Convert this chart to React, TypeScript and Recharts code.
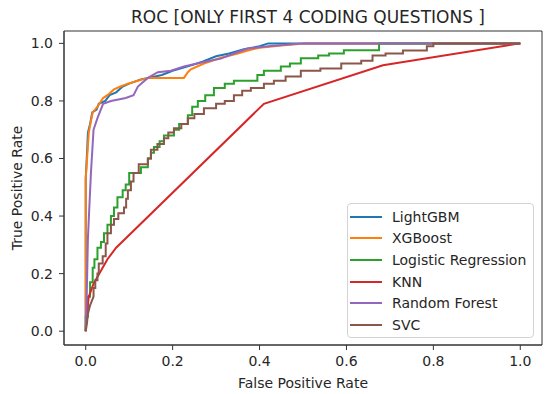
import React from 'react';
import { LineChart, Line, XAxis, YAxis, Legend, ReferenceArea, Label } from 'recharts';

const FONT = "'DejaVu Sans', 'Liberation Sans', sans-serif";

const TITLE = 'ROC [ONLY FIRST 4 CODING QUESTIONS ]';
const X_LABEL = 'False Positive Rate';
const Y_LABEL = 'True Positive Rate';
const TICKS = [0, 0.2, 0.4, 0.6, 0.8, 1.0];
const X_DOMAIN: [number, number] = [-0.05, 1.05];
const Y_DOMAIN: [number, number] = [-0.048, 1.043];

const SERIES_NAMES = ['LightGBM', 'XGBoost', 'Logistic Regression', 'KNN', 'Random Forest', 'SVC'];
const SERIES_COLORS = ['#1f77b4', '#ff7f0e', '#2ca02c', '#d62728', '#9467bd', '#8c564b'];

const lgbmFpr = [0, 0, 0.003, 0.005, 0.01, 0.015, 0.025, 0.03, 0.045, 0.055, 0.07, 0.085, 0.1, 0.127, 0.16, 0.175, 0.2, 0.235, 0.27, 0.3, 0.33, 0.364, 0.4, 0.42, 1];
const lgbmTpr = [0, 0.53, 0.62, 0.69, 0.72, 0.76, 0.77, 0.79, 0.8, 0.82, 0.83, 0.85, 0.86, 0.875, 0.885, 0.89, 0.905, 0.92, 0.937, 0.955, 0.965, 0.98, 0.99, 1, 1];

const xgbFpr = [0, 0, 0.004, 0.007, 0.012, 0.016, 0.027, 0.04, 0.05, 0.065, 0.08, 0.097, 0.12, 0.143, 0.226, 0.235, 0.242, 0.272, 0.311, 0.35, 0.373, 0.4, 0.45, 0.51, 1];
const xgbTpr = [0, 0.53, 0.62, 0.69, 0.73, 0.76, 0.78, 0.81, 0.82, 0.84, 0.85, 0.86, 0.87, 0.88, 0.88, 0.9, 0.91, 0.93, 0.95, 0.965, 0.975, 0.985, 0.993, 1, 1];

const lrFpr = [0, 0, 0.005, 0.005, 0.01, 0.01, 0.016, 0.016, 0.02, 0.02, 0.027, 0.027, 0.035, 0.035, 0.042, 0.042, 0.05, 0.05, 0.058, 0.058, 0.065, 0.065, 0.073, 0.073, 0.085, 0.085, 0.092, 0.092, 0.1, 0.1, 0.127, 0.127, 0.143, 0.143, 0.15, 0.15, 0.157, 0.157, 0.17, 0.17, 0.18, 0.18, 0.203, 0.203, 0.215, 0.215, 0.235, 0.235, 0.245, 0.245, 0.258, 0.258, 0.275, 0.275, 0.295, 0.295, 0.32, 0.32, 0.341, 0.341, 0.395, 0.395, 0.41, 0.41, 0.449, 0.449, 0.47, 0.47, 0.495, 0.495, 0.535, 0.535, 0.56, 0.56, 0.594, 0.594, 0.675, 0.675, 1];
const lrTpr = [0, 0.05, 0.05, 0.12, 0.12, 0.17, 0.17, 0.22, 0.22, 0.25, 0.25, 0.29, 0.29, 0.31, 0.31, 0.34, 0.34, 0.37, 0.37, 0.4, 0.4, 0.43, 0.43, 0.465, 0.465, 0.49, 0.49, 0.51, 0.51, 0.55, 0.55, 0.57, 0.57, 0.6, 0.6, 0.62, 0.62, 0.64, 0.64, 0.66, 0.66, 0.68, 0.68, 0.7, 0.7, 0.72, 0.72, 0.75, 0.75, 0.78, 0.78, 0.8, 0.8, 0.82, 0.82, 0.845, 0.845, 0.86, 0.86, 0.87, 0.87, 0.89, 0.89, 0.905, 0.905, 0.92, 0.92, 0.93, 0.93, 0.948, 0.948, 0.958, 0.958, 0.965, 0.965, 0.976, 0.976, 1, 1];

const knnFpr = [0, 0.003, 0.007, 0.018, 0.035, 0.05, 0.07, 0.41, 0.684, 1];
const knnTpr = [0, 0.07, 0.12, 0.165, 0.21, 0.25, 0.29, 0.79, 0.924, 1];

const rfFpr = [0, 0.002, 0.005, 0.008, 0.012, 0.016, 0.018, 0.027, 0.04, 0.058, 0.092, 0.11, 0.12, 0.143, 0.166, 0.196, 0.226, 0.272, 0.311, 0.341, 0.373, 0.42, 0.5, 1];
const rfTpr = [0, 0.1, 0.32, 0.42, 0.55, 0.65, 0.7, 0.74, 0.79, 0.8, 0.81, 0.82, 0.85, 0.88, 0.9, 0.905, 0.92, 0.935, 0.947, 0.965, 0.982, 0.99, 1, 1];

const svcFpr = [0, 0.003, 0.005, 0.01, 0.018, 0.018, 0.022, 0.022, 0.027, 0.027, 0.03, 0.03, 0.039, 0.039, 0.046, 0.046, 0.05, 0.05, 0.058, 0.058, 0.065, 0.065, 0.075, 0.075, 0.088, 0.088, 0.093, 0.093, 0.097, 0.097, 0.104, 0.104, 0.11, 0.11, 0.122, 0.122, 0.143, 0.143, 0.15, 0.15, 0.165, 0.165, 0.18, 0.18, 0.19, 0.19, 0.203, 0.203, 0.22, 0.22, 0.235, 0.235, 0.25, 0.25, 0.272, 0.272, 0.3, 0.3, 0.32, 0.32, 0.341, 0.341, 0.36, 0.36, 0.38, 0.38, 0.41, 0.41, 0.433, 0.433, 0.46, 0.46, 0.495, 0.495, 0.54, 0.54, 0.588, 0.588, 0.634, 0.634, 0.66, 0.66, 0.69, 0.69, 0.73, 0.73, 0.785, 0.785, 0.8, 0.8, 1];
const svcTpr = [0, 0.03, 0.06, 0.09, 0.12, 0.15, 0.15, 0.177, 0.177, 0.2, 0.2, 0.235, 0.235, 0.26, 0.26, 0.305, 0.305, 0.34, 0.34, 0.37, 0.37, 0.39, 0.39, 0.41, 0.41, 0.43, 0.43, 0.46, 0.46, 0.49, 0.49, 0.52, 0.52, 0.55, 0.55, 0.58, 0.58, 0.6, 0.6, 0.63, 0.63, 0.65, 0.65, 0.67, 0.67, 0.69, 0.69, 0.705, 0.705, 0.72, 0.72, 0.74, 0.74, 0.755, 0.755, 0.775, 0.775, 0.79, 0.79, 0.8, 0.8, 0.82, 0.82, 0.835, 0.835, 0.845, 0.845, 0.86, 0.86, 0.87, 0.87, 0.885, 0.885, 0.905, 0.905, 0.913, 0.913, 0.93, 0.93, 0.94, 0.94, 0.958, 0.958, 0.965, 0.965, 0.975, 0.975, 0.99, 0.99, 1, 1];

const toPoints = (fpr: number[], tpr: number[]) => fpr.map((x, i) => ({ x, y: tpr[i] }));

const SERIES = [
  toPoints(lgbmFpr, lgbmTpr),
  toPoints(xgbFpr, xgbTpr),
  toPoints(lrFpr, lrTpr),
  toPoints(knnFpr, knnTpr),
  toPoints(rfFpr, rfTpr),
  toPoints(svcFpr, svcTpr),
];

const TEXT_COLOR = '#262626';
const AXIS_COLOR = '#333333';

const renderLegend = () => (
  <div
    style={{
      width: 187,
      height: 135,
      boxSizing: 'border-box',
      border: '1px solid #d3d3d3',
      borderRadius: 4,
      background: 'rgba(255,255,255,0.85)',
      position: 'relative',
      fontFamily: FONT,
      fontSize: 14,
      color: TEXT_COLOR,
    }}
  >
    {SERIES_NAMES.map((name, i) => (
      <div
        key={name}
        style={{
          position: 'absolute',
          left: 0,
          top: 12.7 + i * 21.67 - 10,
          height: 20,
          display: 'flex',
          alignItems: 'center',
          whiteSpace: 'nowrap',
        }}
      >
        <div style={{ marginLeft: 2, width: 32, height: 2, background: SERIES_COLORS[i] }} />
        <span style={{ marginLeft: 10, lineHeight: '20px' }}>{name}</span>
      </div>
    ))}
  </div>
);

const YLabel = (props: any) => {
  const vb = props.viewBox || {};
  const cx = 22;
  const cy = vb.height ? vb.y + vb.height / 2 : 188;
  return (
    <text
      x={cx}
      y={cy}
      transform={`rotate(-90 ${cx} ${cy})`}
      textAnchor="middle"
      fontFamily={FONT}
      fontSize={14}
      fill={TEXT_COLOR}
    >
      {Y_LABEL}
    </text>
  );
};

export default function App() {
  return (
    <div style={{ position: 'absolute', left: 0, top: 0, width: 550, height: 394, background: '#fff' }}>
      <LineChart width={550} height={394} margin={{ top: 31, right: 8, bottom: 0, left: 0 }}>
        <XAxis
          type="number"
          dataKey="x"
          domain={X_DOMAIN}
          ticks={TICKS}
          allowDataOverflow
          interval={0}
          height={49}
          tickFormatter={(v: number) => v.toFixed(1)}
          tickSize={5}
          tickMargin={6}
          axisLine={{ stroke: AXIS_COLOR }}
          tickLine={{ stroke: AXIS_COLOR }}
          tick={{ fill: TEXT_COLOR, fontSize: 14, fontFamily: FONT }}
        >
          <Label value={X_LABEL} position="insideBottom" offset={6} fill={TEXT_COLOR} fontSize={14} fontFamily={FONT} />
        </XAxis>
        <YAxis
          type="number"
          dataKey="y"
          domain={Y_DOMAIN}
          ticks={TICKS}
          allowDataOverflow
          interval={0}
          width={64}
          tickFormatter={(v: number) => v.toFixed(1)}
          tickSize={5}
          tickMargin={6}
          axisLine={{ stroke: AXIS_COLOR }}
          tickLine={{ stroke: AXIS_COLOR }}
          tick={{ fill: TEXT_COLOR, fontSize: 14, fontFamily: FONT }}
        >
          <Label content={YLabel} />
        </YAxis>
        <ReferenceArea
          x1={X_DOMAIN[0]}
          x2={X_DOMAIN[1]}
          y1={Y_DOMAIN[0]}
          y2={Y_DOMAIN[1]}
          fill="none"
          fillOpacity={0}
          stroke={AXIS_COLOR}
          strokeWidth={1}
          ifOverflow="visible"
        />
        {SERIES.map((pts, i) => (
          <Line
            key={SERIES_NAMES[i]}
            data={pts}
            dataKey="y"
            name={SERIES_NAMES[i]}
            type="linear"
            stroke={SERIES_COLORS[i]}
            strokeWidth={2}
            dot={false}
            activeDot={false}
            isAnimationActive={false}
          />
        ))}
        <Legend
          layout="vertical"
          align="center"
          verticalAlign="middle"
          content={renderLegend}
          wrapperStyle={{ left: 347, top: 203, width: 187, height: 135 }}
        />
      </LineChart>
      <svg width={550} height={40} style={{ position: 'absolute', left: 0, top: 0, pointerEvents: 'none' }}>
        <text x={308} y={22.5} textAnchor="middle" fontFamily={FONT} fontSize={17} fill={TEXT_COLOR}>
          {TITLE}
        </text>
      </svg>
    </div>
  );
}
